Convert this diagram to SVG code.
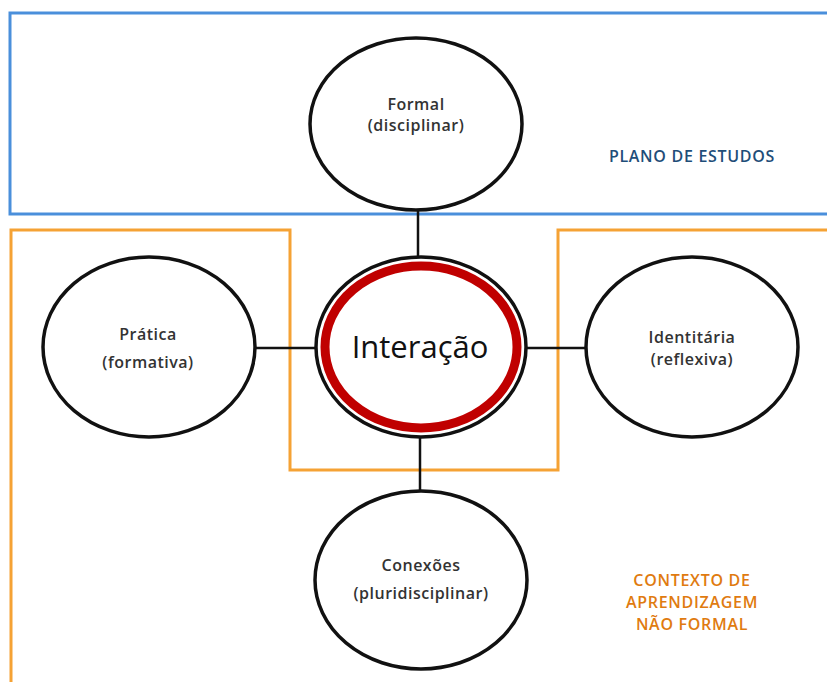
<svg xmlns="http://www.w3.org/2000/svg" width="827" height="682" viewBox="0 0 827 682">
<style>
.node{fill:#fff;stroke:#111;stroke-width:3.5}
.lbl{font-family:"Open Sans","DejaVu Sans",sans-serif;font-size:16px;font-weight:600;letter-spacing:0.5px;fill:#333;text-anchor:middle}
.cap{font-family:"Open Sans","DejaVu Sans",sans-serif;font-size:16px;font-weight:600;letter-spacing:0.7px;text-anchor:middle}
.conn{stroke:#111;stroke-width:2.5;fill:none}
</style>
<rect width="827" height="682" fill="#fff"/>
<g id="plano">
<rect x="10" y="13" width="830" height="201" fill="none" stroke="#4a8fdb" stroke-width="3"/>
<text class="cap" x="692" y="162" fill="#1f4e79">PLANO DE ESTUDOS</text>
</g>
<g id="contexto">
<path d="M11,682 L11,230 L290,230 L290,470 L558,470 L558,230 L830,230" fill="none" stroke="#f5a234" stroke-width="3"/>
<text class="cap" fill="#e07b10"><tspan x="692" y="586">CONTEXTO DE</tspan><tspan x="692" y="608">APRENDIZAGEM</tspan><tspan x="692" y="630">NÃO FORMAL</tspan></text>
</g>
<g id="connectors">
<line class="conn" x1="418" y1="210" x2="418" y2="258"/>
<line class="conn" x1="255" y1="348" x2="316" y2="348"/>
<line class="conn" x1="527" y1="348" x2="588" y2="348"/>
<line class="conn" x1="420" y1="437" x2="420" y2="491"/>
</g>
<g id="formal">
<ellipse class="node" cx="416" cy="124" rx="106" ry="86"/>
<text class="lbl"><tspan x="416" y="110">Formal</tspan><tspan x="416" y="131">(disciplinar)</tspan></text>
</g>
<g id="pratica">
<ellipse class="node" cx="149" cy="347" rx="106" ry="90"/>
<text class="lbl"><tspan x="148" y="340">Prática</tspan><tspan x="148" y="368">(formativa)</tspan></text>
</g>
<g id="interacao">
<ellipse class="node" cx="421" cy="347" rx="105" ry="90"/>
<ellipse cx="421" cy="347" rx="96" ry="81" fill="none" stroke="#c00000" stroke-width="9"/>
<text x="420" y="358" style="font-family:'Open Sans','DejaVu Sans',sans-serif;font-size:31px;fill:#111;text-anchor:middle">Interação</text>
</g>
<g id="identitaria">
<ellipse class="node" cx="692" cy="347" rx="106" ry="90"/>
<text class="lbl"><tspan x="692" y="343">Identitária</tspan><tspan x="692" y="365">(reflexiva)</tspan></text>
</g>
<g id="conexoes">
<ellipse class="node" cx="421" cy="580" rx="106" ry="89"/>
<text class="lbl"><tspan x="421" y="571">Conexões</tspan><tspan x="421" y="599">(pluridisciplinar)</tspan></text>
</g>
</svg>
